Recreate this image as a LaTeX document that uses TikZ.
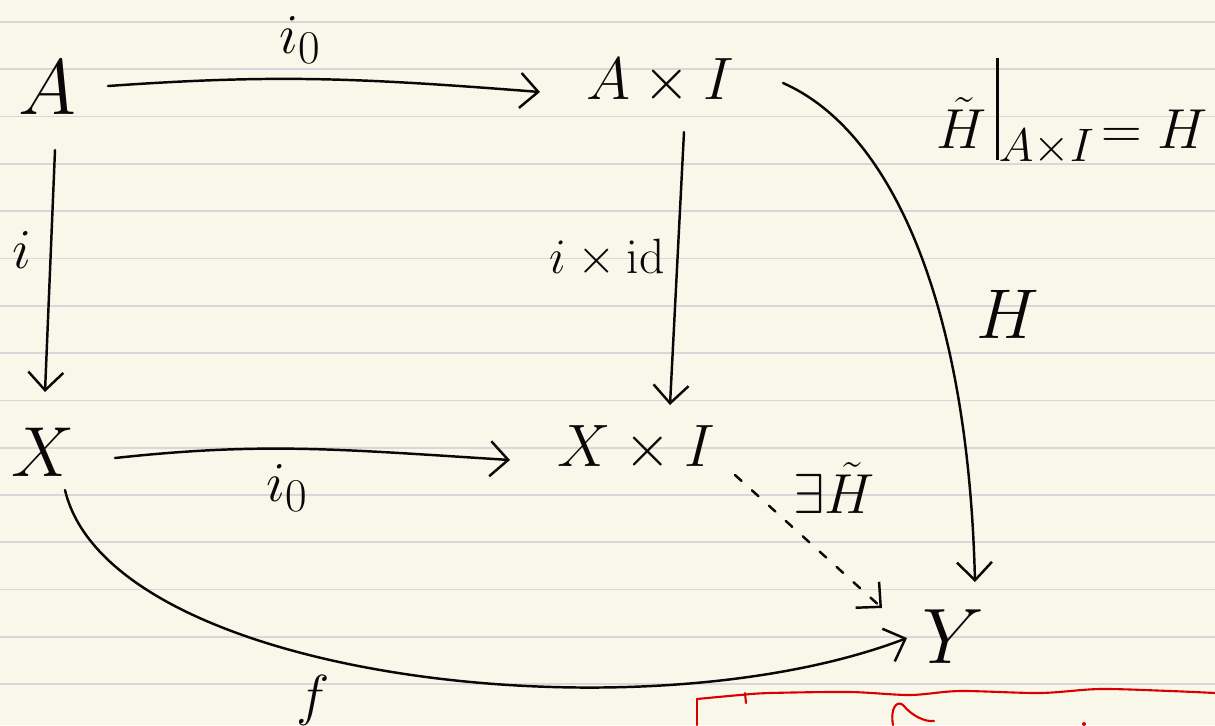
\documentclass[tikz,border=0pt]{standalone}
\usetikzlibrary{arrows.meta,calc}
\definecolor{paper}{RGB}{249,247,234}
\definecolor{ruleline}{RGB}{216,216,216}
\definecolor{ink}{RGB}{8,8,8}
\definecolor{redink}{RGB}{218,0,0}
\begin{document}
\begin{tikzpicture}[x=0.02cm,y=-0.02cm,
  obj/.style={inner sep=1pt, text=ink, font=\Huge, scale=1.8},
  prod/.style={inner sep=1pt, text=ink, font=\Huge, scale=1.37},
  lab/.style={inner sep=1pt, text=ink, font=\Huge, scale=1.29},
  arr/.style={draw=ink, line width=1.4pt, line cap=round, -{Straight Barb[length=0.36cm,width=0.7cm]}},
  dotarr/.style={arr, dash pattern=on 5pt off 8pt},
  redpen/.style={draw=redink, line width=1.2pt, line cap=round}]
% paper
\fill[paper] (0,0) rectangle (1215,725);
\useasboundingbox (0,0) rectangle (1215,725);
\foreach \k in {0,...,14}{
  \draw[ruleline, line width=1pt] (0,{22+47.3*\k}) -- (1215,{22+47.3*\k});
}
% objects
\node[obj]  (A)  at (47,88)   {$A$};
\node[prod] (AI) at (660,82)  {$A\times I$};
\node[obj, scale=0.9] (X)  at (43,452)  {$X$};
\node[prod] (XI) at (636,449) {$X\times I$};
\node[obj]  (Y)  at (953,637) {$Y$};
% labels
\node[lab] (li0top) at (300,40)  {$i_0$};
\node[lab] (li)     at (22,250)  {$i$};
\node[lab, scale=0.88] (lixid)  at (607,258) {$i\times\mathrm{id}$};
\node[lab, scale=1.25] (lH) at (1008,314) {$H$};
\node[lab] (lexH)   at (834,488) {$\exists\tilde H$};
\node[lab] (li0bot) at (287,488) {$i_0$};
\node[lab] (lf)     at (313,700) {$f$};
\node[lab] (lrestr) at (1072,112) {$\tilde H\,\rule[-0.2em]{0.05em}{1.8em}_{A\times I}\!=H$};
% arrows
\draw[arr] ($(A)+(61,-2)$) .. controls ($(A)+(230,-14)$) and ($(AI)+(-300,-4)$) .. ($(AI)+(-120,10)$);
\draw[arr] ($(A)+(8,62)$) -- ($(X)+(2,-60)$);
\draw[arr] ($(AI)+(24,50)$) -- ($(XI)+(34,-44)$);
\draw[arr] ($(X)+(72,6)$) .. controls ($(X)+(220,-10)$) and ($(XI)+(-300,0)$) .. ($(XI)+(-126,11)$);
\draw[arr] ($(AI)+(123,1)$) .. controls (890,130) and (968,300) .. ($(Y)+(22,-55)$);
\draw[dotarr] ($(XI)+(99,26)$) -- ($(Y)+(-71,-29)$);
\draw[arr] ($(X)+(22,38)$) .. controls (110,680) and (640,740) .. ($(Y)+(-46,1)$);
% red marks
\draw[redpen] (697,725) -- (697,699);
\draw[redpen] plot[smooth] coordinates {(697,699) (740,695) (770,693) (850,692) (910,695) (960,691) (1040,693) (1100,689) (1170,691) (1215,693)};
\draw[redpen] (745,693) -- (746,703);
\draw[redpen] (893,725) .. controls (890,708) and (897,700) .. (903,705) .. controls (912,716) and (925,722) .. (934,721);
\fill[redink] (1084,724) circle (2);
\end{tikzpicture}
\end{document}
